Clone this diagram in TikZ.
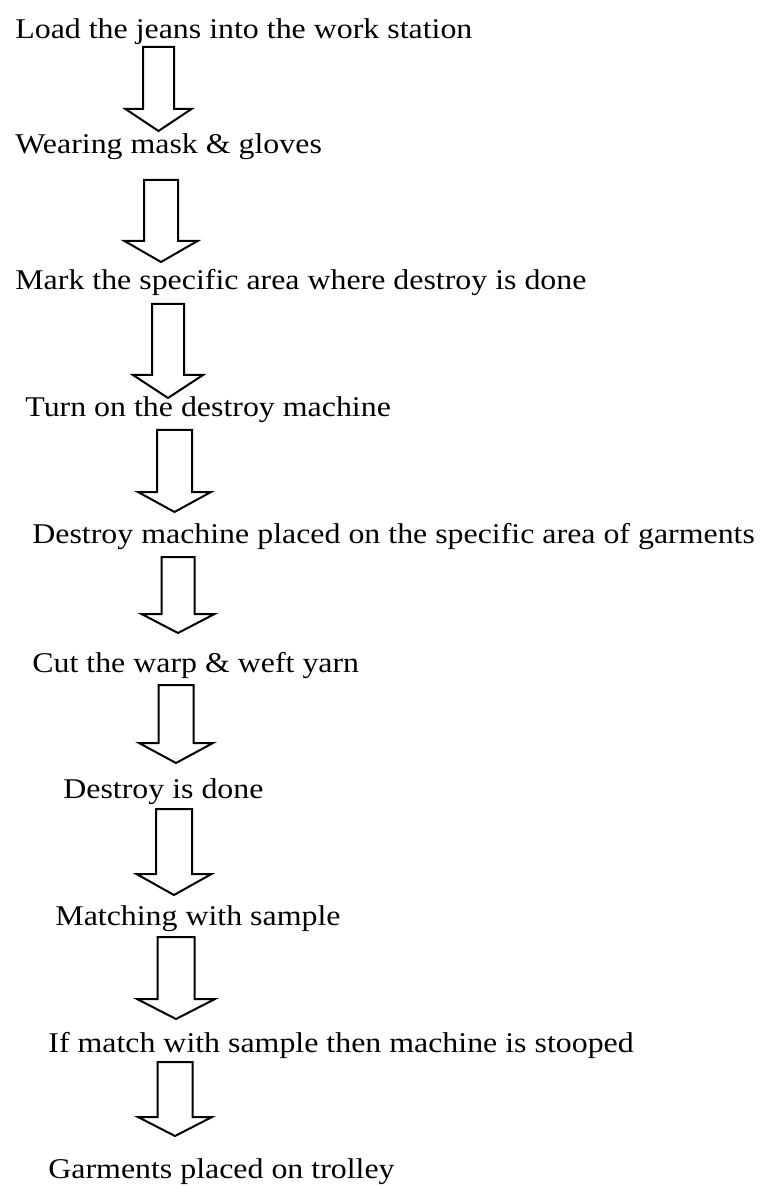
\documentclass[tikz,border=0pt]{standalone}
\usepackage{fontspec}
\setmainfont{Liberation Serif}[FakeStretch=1.115]

\tikzset{
  steptext/.style={anchor=base west, inner sep=0pt, font=\fontsize{14.3}{17}\selectfont},
  fatarrow/.style={draw, line width=1pt, line join=miter}
}
% hollow down arrow: centre x, top y, wing y, shaft half width, wing half width, tip y
\newcommand{\blockdown}[6]{%
  \draw[fatarrow](#1-#4, #2) -- (#1+#4, #2) -- (#1+#4, #3) -- (#1+#5, #3)
    -- (#1, #6) -- (#1-#5, #3) -- (#1-#4, #3) -- cycle;}

\begin{document}
\begin{tikzpicture}[x=0.5pt, y=-0.5pt]
      \useasboundingbox(0, 0) rectangle (760, 1186);

      \node[steptext] at(15, 39)(load){Load the jeans into the work station};
        \blockdown{158.5}{47}{109}{15.5}{33}{131}
      \node[steptext] at(15, 154)(mask){Wearing mask \& gloves};
        \blockdown{161}{180}{241}{17}{36.5}{262}
      \node[steptext] at(15, 290)(mark){Mark the specific area where destroy is done};
        \blockdown{168}{304}{375}{16}{35}{398}
      \node[steptext] at(25, 417)(turnon){Turn on the destroy machine};
        \blockdown{174.5}{430}{492}{17.5}{36.5}{512}
      \node[steptext] at(32, 543)(place){Destroy machine placed on the specific area of garments};
        \blockdown{178}{557}{614}{16.5}{36.5}{633}
      \node[steptext] at(32, 672)(cut){Cut the warp \& weft yarn};
        \blockdown{176}{685}{743}{17.5}{37}{763}
      \node[steptext] at(63, 798)(done){Destroy is done};
        \blockdown{174}{809}{874}{18}{37.5}{895}
      \node[steptext] at(55, 925)(match){Matching with sample};
        \blockdown{176}{937}{999}{18.5}{39}{1019}
      \node[steptext] at(48, 1052)(stop){If match with sample then machine is stooped};
        \blockdown{175}{1062}{1117}{17.5}{37}{1136}
      \node[steptext] at(48, 1178)(trolley){Garments placed on trolley};

\end{tikzpicture}
\end{document}
